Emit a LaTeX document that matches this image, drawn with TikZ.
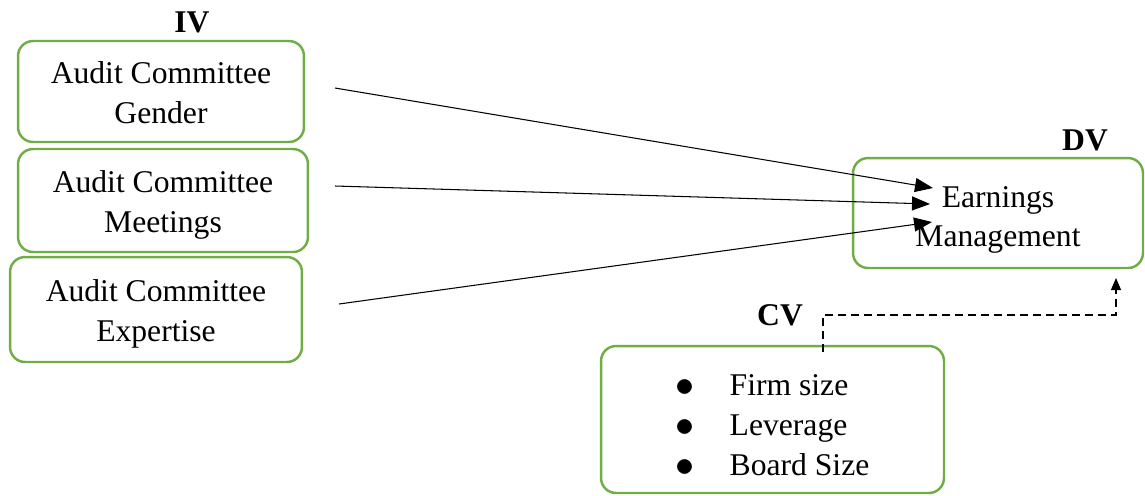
\documentclass[tikz,border=0pt]{standalone}
\usepackage{fontspec}
\setmainfont{Liberation Serif}
\usetikzlibrary{arrows.meta}

\definecolor{boxgreen}{RGB}{112,173,71}
\newcommand{\lowered}[2]{\raisebox{-#1}[\height][\depth]{#2}}
\newcommand{\listdot}{\raisebox{-0.5pt}{\scalebox{1.25}{$\bullet$}}}

\tikzset{
  varbox/.style={draw=boxgreen, line width=1.4pt, rounded corners=0.3cm, align=center,
    inner sep=0pt, font=\fontsize{18}{22.7}\selectfont},
  tag/.style={font=\fontsize{18}{22}\selectfont\bfseries},
  link/.style={-{Triangle[length=0.36cm,width=0.28cm]}, line width=0.6pt},
  ctrllink/.style={-{Triangle[length=0.24cm,width=0.2cm]}, line width=0.6pt,
    dash pattern=on 0.16cm off 0.1cm}
}

\begin{document}
\begin{tikzpicture}[x=0.02cm, y=-0.02cm]
      \useasboundingbox (0,0) rectangle (1145,495);

      % Independent variables
      \node[tag] (iv) at (192,22) {IV};
      \node[varbox, minimum width=5.72cm, minimum height=2.02cm] (gender) at (161,91.5)
        {\lowered{2.3pt}{\begin{tabular}{@{}c@{}}Audit Committee\\Gender\end{tabular}}};
      \node[varbox, minimum width=5.8cm, minimum height=2.06cm] (meetings) at (163,200.5)
        {\lowered{2.3pt}{\begin{tabular}{@{}c@{}}Audit Committee\\Meetings\end{tabular}}};
      \node[varbox, minimum width=5.84cm, minimum height=2.1cm] (expertise) at (156,309.5)
        {\lowered{2.3pt}{\begin{tabular}{@{}c@{}}Audit Committee\\Expertise\end{tabular}}};

      % Dependent variable
      \node[tag] (dv) at (1085,140) {DV};
      \node[varbox, minimum width=5.8cm, minimum height=2.2cm] (em) at (998,213)
        {\lowered{3.4pt}{\begin{tabular}{@{}c@{}}Earnings\\Management\end{tabular}}};

      % Control variables
      \node[tag] (cv) at (780,315) {CV};
      \node[varbox, minimum width=6.86cm, minimum height=2.94cm] (ctrl) at (772.5,419.5)
        {\lowered{4.5pt}{\begin{tabular}{@{}l@{\hspace{20pt}}l@{}}
           \listdot & Firm size\\
           \listdot & Leverage\\
           \listdot & Board Size
         \end{tabular}}};

      % Connectors
      \coordinate (gout) at (335,88);
      \coordinate (mout) at (335,186);
      \coordinate (xout) at (339,304);
      \coordinate (emg) at (933,188);
      \coordinate (emm) at (930,204);
      \coordinate (emx) at (932,222);
      \coordinate (cvout) at (823,352);
      \coordinate (emc) at (1116,278);
      \draw[link] (gout) -- (emg);
      \draw[link] (mout) -- (emm);
      \draw[link] (xout) -- (emx);
      \draw[ctrllink] (cvout) -- ++(0,-37) -| (emc);
\end{tikzpicture}
\end{document}
